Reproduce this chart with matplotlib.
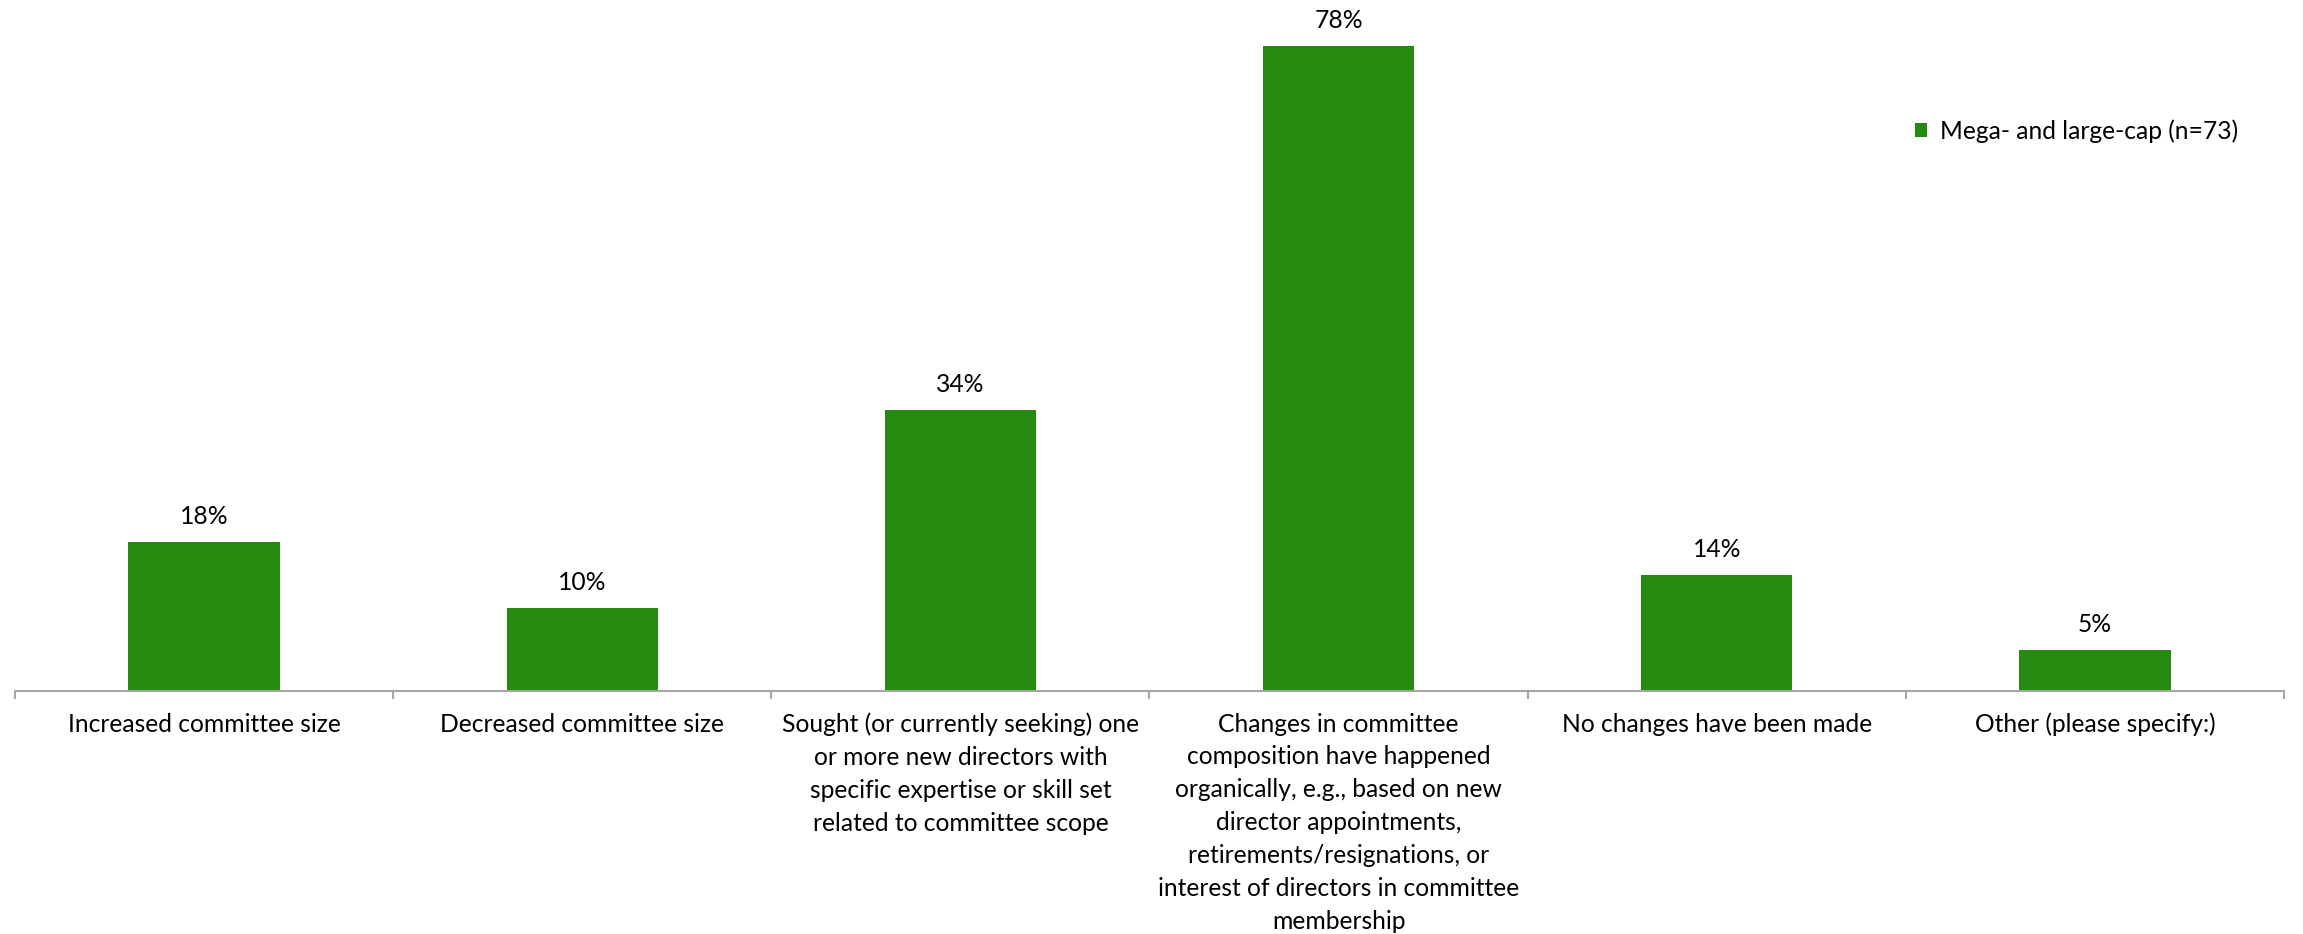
import matplotlib.pyplot as plt
from matplotlib.patches import Patch

categories = [
    "Increased committee size",
    "Decreased committee size",
    "Sought (or currently seeking) one\nor more new directors with\nspecific expertise or skill set\nrelated to committee scope",
    "Changes in committee\ncomposition have happened\norganically, e.g., based on new\ndirector appointments,\nretirements/resignations, or\ninterest of directors in committee\nmembership",
    "No changes have been made",
    "Other (please specify:)",
]
values = [18, 10, 34, 78, 14, 5]
series_name = "Mega- and large-cap (n=73)"

bar_color = "#278A10"
axis_color = "#A6A6A6"

plt.rcParams['font.family'] = ['Lato', 'DejaVu Sans']
fs = 17.7

W, H = 2303, 934
fig = plt.figure(figsize=(W / 100, H / 100), dpi=100)
ax = fig.add_axes([15 / W, 1 - 691 / H, (2284 - 15) / W, (691 - 29) / H])

x = list(range(len(categories)))
bars = ax.bar(x, values, width=0.4, color=bar_color, zorder=2)

for xi, v in zip(x, values):
    ax.annotate(f"{v}%", (xi, v), xytext=(0, 10), textcoords="offset points",
                ha="center", va="bottom", fontsize=fs, color="#000000")

ax.set_xlim(-0.5, len(categories) - 0.5)
ax.set_ylim(0, 80)

for s in ["top", "right", "left"]:
    ax.spines[s].set_visible(False)
ax.spines["bottom"].set_color(axis_color)
ax.spines["bottom"].set_linewidth(1.5)
ax.set_yticks([])

# labels sit at the centres, small tick marks at the boundaries
ax.set_xticks(x)
ax.set_xticklabels(categories, fontsize=fs, linespacing=1.52)
ax.tick_params(axis="x", which="major", length=0, pad=15.5)
ax.set_xticks([i - 0.5 for i in range(len(categories) + 1)], minor=True)
ax.tick_params(axis="x", which="minor", length=6, width=1.5, color=axis_color)

handle = Patch(facecolor=bar_color, edgecolor="none")
fig.legend([handle], [series_name], loc="center left",
           bbox_to_anchor=(1915 / W, 1 - 131 / H), frameon=False,
           fontsize=fs, handlelength=0.5, handleheight=0.5, handletextpad=0.5,
           borderpad=0, borderaxespad=0)

fig.savefig("out.png", dpi=100, facecolor="white")
